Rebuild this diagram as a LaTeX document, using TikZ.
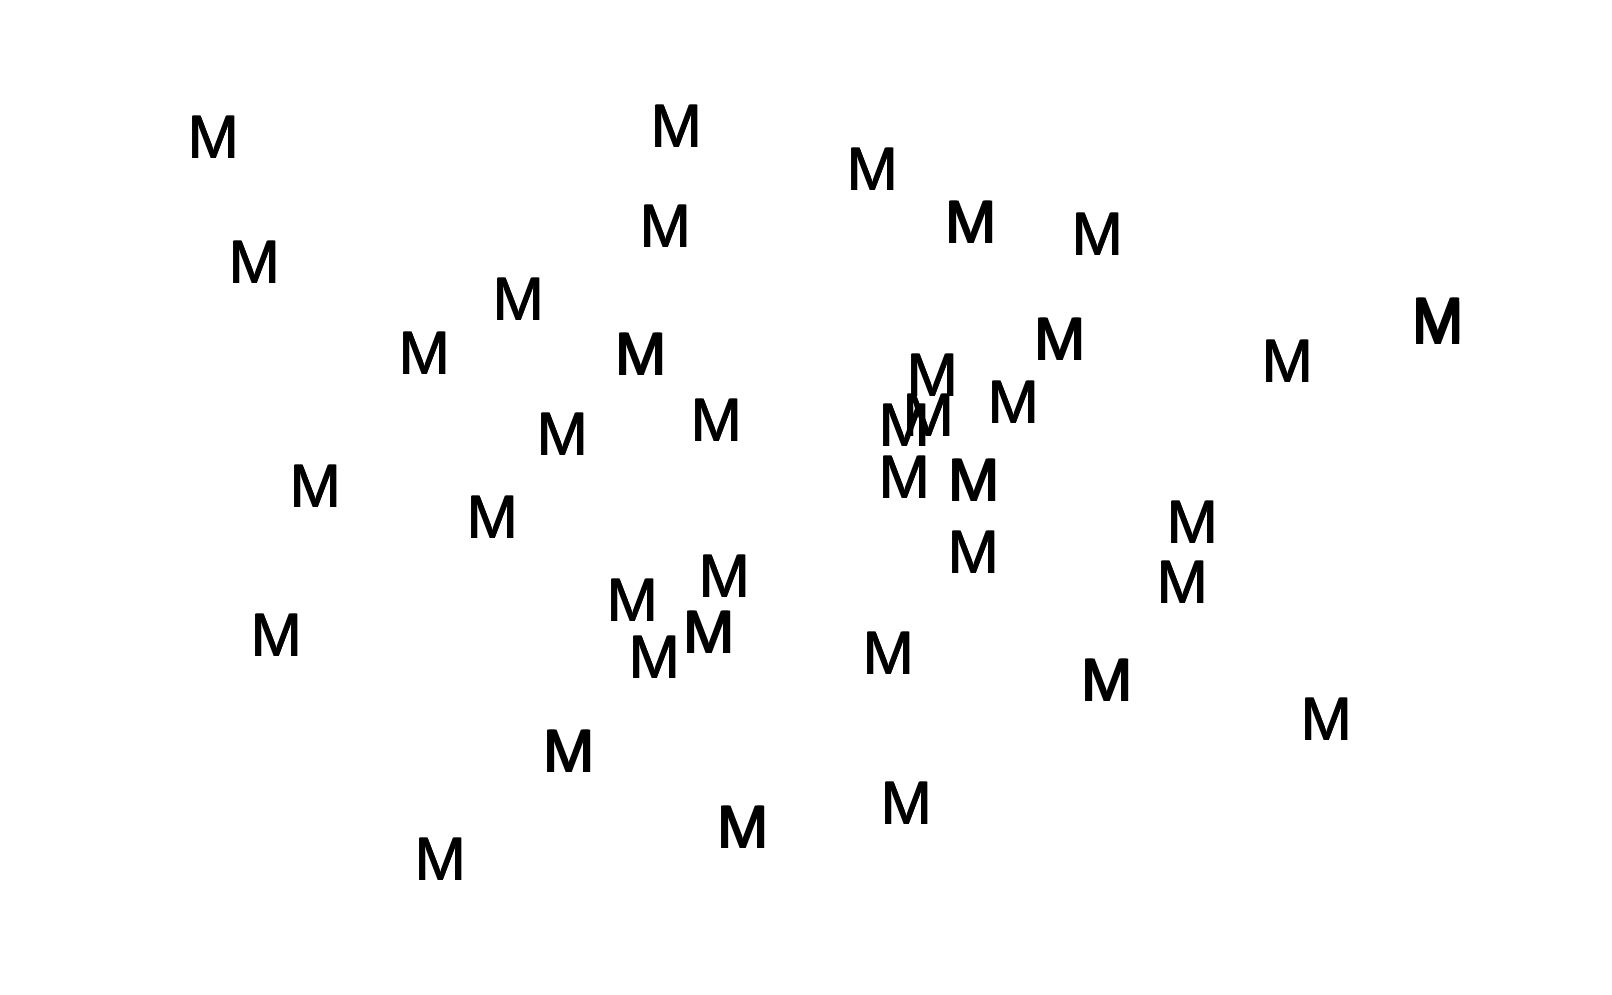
\documentclass[tikz,border=0pt]{standalone}
\usepackage{fontspec}
\setmainfont{Liberation Sans}
\tikzset{
  mletter/.style={inner sep=0pt, outer sep=0pt, anchor=center, text=black, font=\fontsize{61.5pt}{62pt}\selectfont}
}
\newcommand\mplain[3]{\node[mletter] (#1) at (#2,#3) {M};\node[mletter] (#1l) at (#2-0.4,#3) {M};\node[mletter] (#1r) at (#2+0.4,#3) {M};}
\newcommand\mheavy[3]{\node[mletter] (#1) at (#2,#3) {M};\node[mletter] (#1l) at (#2-1.0,#3) {M};\node[mletter] (#1r) at (#2+1.0,#3) {M};}
\begin{document}
\begin{tikzpicture}[x=1pt,y=-1pt]
\useasboundingbox[fill=white] (0,0) rectangle (1612,994);
\mplain{n1}{214}{137}
\mplain{n2}{677}{126}
\mplain{n3}{873}{169}
\mheavy{n4}{971}{222}
\mplain{n5}{1098}{234}
\mplain{n6}{666}{226}
\mplain{n7}{255}{262}
\mplain{n8}{519}{299}
\mplain{n9}{425}{353}
\mheavy{n10}{641}{354}
\mheavy{n11}{1060}{339}
\mheavy{n12}{1438}{319}
\mheavy{n12d}{1438}{323}
\mplain{n13}{1288}{361}
\mplain{n14}{933}{375}
\mplain{n15}{1014}{402}
\mplain{n16}{717}{420}
\mplain{n17}{905}{425}
\mplain{n18}{929}{415}
\mplain{n19}{563}{434}
\mplain{n20}{316}{486}
\mplain{n21}{905}{477}
\mheavy{n22}{974}{480}
\mplain{n23}{493}{517}
\mplain{n24}{1193}{522}
\mplain{n25}{974}{552}
\mplain{n26}{725}{576}
\mplain{n27}{633}{600}
\mplain{n28}{1183}{582}
\mplain{n29}{277}{635}
\mheavy{n30}{709}{632}
\mplain{n31}{655}{657}
\mplain{n32}{889}{653}
\mheavy{n33}{1107}{680}
\mplain{n34}{1327}{719}
\mheavy{n35}{569}{751}
\mheavy{n36}{743}{827}
\mplain{n37}{907}{803}
\mplain{n38}{441}{859}
\end{tikzpicture}
\end{document}
